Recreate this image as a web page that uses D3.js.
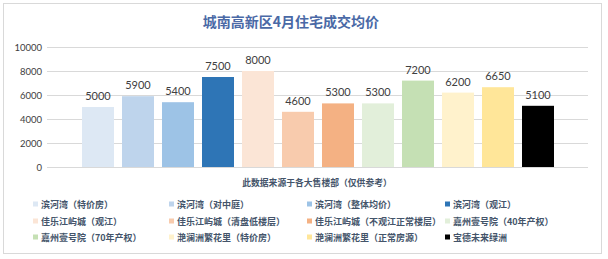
<!DOCTYPE html>
<html>
<head>
<meta charset="utf-8">
<script src="https://cdn.jsdelivr.net/npm/d3@7"></script>
<style>
  body { margin: 0; background: #fff; }
  svg { display: block; }
</style>
</head>
<body>
<div id="chart"></div>
<script>
(function () {

  // data
  const names = [
    "滨河湾（特价房）", "滨河湾（对中庭）", "滨河湾（整体均价）", "滨河湾（观江）",
    "佳乐江屿城（观江）", "佳乐江屿城（清盘低楼层）", "佳乐江屿城（不观江正常楼层）", "嘉州壹号院（40年产权）",
    "嘉州壹号院（70年产权）", "滟澜洲繁花里（特价房）", "滟澜洲繁花里（正常房源）", "宝德未来绿洲"
  ]
  const prices = [5000, 5900, 5400, 7500, 8000, 4600, 5300, 5300, 7200, 6200, 6650, 5100]
  const colors = [
    "#dde8f4", "#bed4ec", "#9dc3e6", "#2e75b6",
    "#fbe5d6", "#f8cbad", "#f4b183", "#e2efda",
    "#c5e0b4", "#fff2cc", "#ffe699", "#000000"
  ]
  const yTicks = [0, 2000, 4000, 6000, 8000, 10000]

  const W = 608, H = 259
  const cjk = "'Noto Sans CJK SC', 'Noto Sans', sans-serif"
  const num = "Lato, 'Liberation Sans', sans-serif"

  const svg = d3.select("#chart").append("svg")
      .attr("width", W)
      .attr("height", H)

  // chart frame
  svg.append("rect")
    .attr("x", 3.5).attr("y", 3.5)
    .attr("width", 598).attr("height", 250)
    .attr("fill", "#fff")
    .attr("stroke", "#d9d9d9")

  svg.append("text")
    .attr("x", 291).attr("y", 21)
    .attr("text-anchor", "middle")
    .attr("dominant-baseline", "central")
    .attr("font-family", cjk)
    .attr("font-size", 14)
    .attr("font-weight", "bold")
    .attr("fill", "#4a69a6")
    .text("城南高新区4月住宅成交均价")

  const x = d3.scaleBand()
    .domain(names)
    .range([78, 558])
    .paddingInner(0.2)
    .paddingOuter(0.1)

  const y = d3.scaleLinear()
    .domain([0, 10000])
    .range([167, 47])

  // gridlines + tick labels
  const yAxis = svg.append("g")
    .attr("transform", "translate(47,0)")
    .call(d3.axisLeft(y).tickValues(yTicks).tickFormat(d3.format("d")).tickSize(-541).tickPadding(5))
  yAxis.select(".domain").remove()
  yAxis.selectAll(".tick line").attr("stroke", "#d9d9d9")
  yAxis.selectAll(".tick text")
    .attr("font-family", num)
    .attr("font-size", 9.5)
    .attr("fill", "#404040")

  const data = names.map((n, i) => ({ name: n, value: prices[i], color: colors[i] }))

  svg.selectAll("rect.bar")
    .data(data)
    .join("rect")
    .attr("class", "bar")
    .attr("x", d => x(d.name))
    .attr("y", d => y(d.value))
    .attr("width", x.bandwidth())
    .attr("height", d => y(0) - y(d.value))
    .attr("fill", d => d.color)

  svg.selectAll("text.val")
    .data(data)
    .join("text")
    .attr("class", "val")
    .attr("x", d => x(d.name) + x.bandwidth() / 2)
    .attr("y", d => y(d.value) - 7)
    .attr("text-anchor", "middle")
    .attr("font-family", num)
    .attr("font-size", 11)
    .attr("fill", "#404040")
    .text(d => d.value)

  // axis note
  svg.append("text")
    .attr("x", 317).attr("y", 182)
    .attr("text-anchor", "middle")
    .attr("dominant-baseline", "central")
    .attr("font-family", cjk)
    .attr("font-size", 8.8)
    .attr("font-weight", "bold")
    .attr("fill", "#44546a")
    .text("此数据来源于各大售楼部（仅供参考）")

  // legend, 4 columns x 3 rows
  const colX = [33, 169, 307, 445]
  const rowY = [204, 221, 237]
  const legend = svg.selectAll("g.leg")
    .data(data)
    .join("g")
    .attr("class", "leg")
    .attr("transform", (d, i) => `translate(${colX[i % 4]},${rowY[Math.floor(i / 4)]})`)
  legend.append("rect")
    .attr("x", 0).attr("y", -2.5)
    .attr("width", 5).attr("height", 5)
    .attr("fill", d => d.color)
  legend.append("text")
    .attr("x", 8).attr("y", 0)
    .attr("dominant-baseline", "central")
    .attr("font-family", cjk)
    .attr("font-size", 9)
    .attr("font-weight", "bold")
    .attr("fill", "#44546a")
    .text(d => d.name)

})();
</script>
</body>
</html>
